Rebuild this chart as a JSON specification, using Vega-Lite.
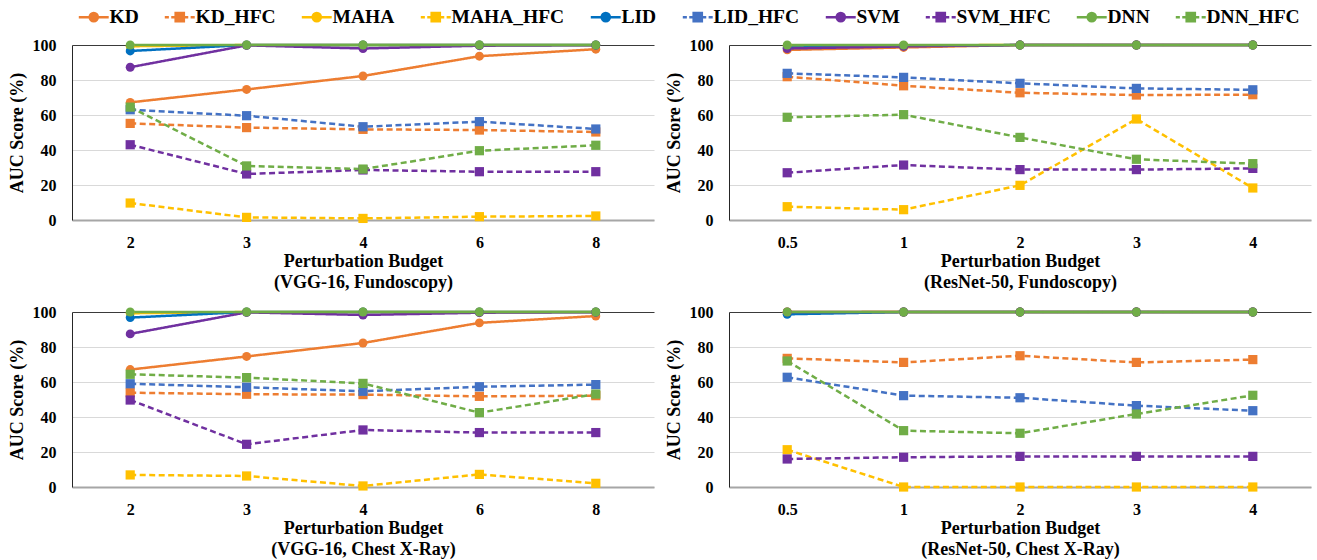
{
  "$schema": "https://vega.github.io/schema/vega-lite/v6.json",
  "background": "white",
  "padding": {"left": 8, "top": 7, "right": 4, "bottom": 4},
  "config": {
    "font": "Liberation Serif",
    "view": {"stroke": null},
    "axis": {"labelFont": "Liberation Serif", "labelFontWeight": "bold", "labelFontSize": 16, "labelColor": "black", "titleFont": "Liberation Serif", "titleFontWeight": "bold", "titleFontSize": 18, "titleColor": "black", "ticks": false},
    "axisX": {"domainColor": "#a6a6a6", "domainWidth": 2, "grid": false, "labelPadding": 14, "labelAngle": 0, "titlePadding": 2, "titleLineHeight": 21},
    "axisY": {"domainColor": "#262626", "domainWidth": 1, "gridWidth": 1, "labelPadding": 16, "titlePadding": 6},
    "legend": {"labelFont": "Liberation Serif", "labelFontWeight": "bold", "labelFontSize": 19.5, "labelColor": "black", "symbolSize": 185, "labelOffset": 6, "columnPadding": 20, "symbolStrokeWidth": 2.5, "padding": 0}
  },
  "data": {"values": [
    {"p":"VF","x":"2","s":"KD","v":67.2},{"p":"VF","x":"3","s":"KD","v":74.6},{"p":"VF","x":"4","s":"KD","v":82.3},{"p":"VF","x":"6","s":"KD","v":93.6},{"p":"VF","x":"8","s":"KD","v":97.6},
    {"p":"VF","x":"2","s":"KD_HFC","v":55.2},{"p":"VF","x":"3","s":"KD_HFC","v":52.8},{"p":"VF","x":"4","s":"KD_HFC","v":51.8},{"p":"VF","x":"6","s":"KD_HFC","v":51.4},{"p":"VF","x":"8","s":"KD_HFC","v":50.3},
    {"p":"VF","x":"2","s":"MAHA","v":99.3},{"p":"VF","x":"3","s":"MAHA","v":100},{"p":"VF","x":"4","s":"MAHA","v":100},{"p":"VF","x":"6","s":"MAHA","v":100},{"p":"VF","x":"8","s":"MAHA","v":100},
    {"p":"VF","x":"2","s":"MAHA_HFC","v":9.7},{"p":"VF","x":"3","s":"MAHA_HFC","v":1.5},{"p":"VF","x":"4","s":"MAHA_HFC","v":0.9},{"p":"VF","x":"6","s":"MAHA_HFC","v":1.9},{"p":"VF","x":"8","s":"MAHA_HFC","v":2.3},
    {"p":"VF","x":"2","s":"LID","v":96.6},{"p":"VF","x":"3","s":"LID","v":100},{"p":"VF","x":"4","s":"LID","v":100},{"p":"VF","x":"6","s":"LID","v":100},{"p":"VF","x":"8","s":"LID","v":100},
    {"p":"VF","x":"2","s":"LID_HFC","v":63.0},{"p":"VF","x":"3","s":"LID_HFC","v":59.6},{"p":"VF","x":"4","s":"LID_HFC","v":53.3},{"p":"VF","x":"6","s":"LID_HFC","v":56.2},{"p":"VF","x":"8","s":"LID_HFC","v":52.0},
    {"p":"VF","x":"2","s":"SVM","v":87.3},{"p":"VF","x":"3","s":"SVM","v":99.8},{"p":"VF","x":"4","s":"SVM","v":98.0},{"p":"VF","x":"6","s":"SVM","v":99.6},{"p":"VF","x":"8","s":"SVM","v":99.9},
    {"p":"VF","x":"2","s":"SVM_HFC","v":43.0},{"p":"VF","x":"3","s":"SVM_HFC","v":26.3},{"p":"VF","x":"4","s":"SVM_HFC","v":28.6},{"p":"VF","x":"6","s":"SVM_HFC","v":27.6},{"p":"VF","x":"8","s":"SVM_HFC","v":27.6},
    {"p":"VF","x":"2","s":"DNN","v":100},{"p":"VF","x":"3","s":"DNN","v":100},{"p":"VF","x":"4","s":"DNN","v":100},{"p":"VF","x":"6","s":"DNN","v":100},{"p":"VF","x":"8","s":"DNN","v":100},
    {"p":"VF","x":"2","s":"DNN_HFC","v":64.5},{"p":"VF","x":"3","s":"DNN_HFC","v":30.9},{"p":"VF","x":"4","s":"DNN_HFC","v":29.1},{"p":"VF","x":"6","s":"DNN_HFC","v":39.6},{"p":"VF","x":"8","s":"DNN_HFC","v":42.7},

    {"p":"RF","x":"0.5","s":"KD","v":97.2},{"p":"RF","x":"1","s":"KD","v":98.6},{"p":"RF","x":"2","s":"KD","v":100},{"p":"RF","x":"3","s":"KD","v":100},{"p":"RF","x":"4","s":"KD","v":100},
    {"p":"RF","x":"0.5","s":"KD_HFC","v":81.9},{"p":"RF","x":"1","s":"KD_HFC","v":76.7},{"p":"RF","x":"2","s":"KD_HFC","v":72.7},{"p":"RF","x":"3","s":"KD_HFC","v":71.4},{"p":"RF","x":"4","s":"KD_HFC","v":71.6},
    {"p":"RF","x":"0.5","s":"MAHA","v":99.5},{"p":"RF","x":"1","s":"MAHA","v":99.8},{"p":"RF","x":"2","s":"MAHA","v":100},{"p":"RF","x":"3","s":"MAHA","v":100},{"p":"RF","x":"4","s":"MAHA","v":100},
    {"p":"RF","x":"0.5","s":"MAHA_HFC","v":7.6},{"p":"RF","x":"1","s":"MAHA_HFC","v":5.9},{"p":"RF","x":"2","s":"MAHA_HFC","v":19.8},{"p":"RF","x":"3","s":"MAHA_HFC","v":57.7},{"p":"RF","x":"4","s":"MAHA_HFC","v":18.3},
    {"p":"RF","x":"0.5","s":"LID","v":98.5},{"p":"RF","x":"1","s":"LID","v":99.5},{"p":"RF","x":"2","s":"LID","v":100},{"p":"RF","x":"3","s":"LID","v":100},{"p":"RF","x":"4","s":"LID","v":100},
    {"p":"RF","x":"0.5","s":"LID_HFC","v":83.8},{"p":"RF","x":"1","s":"LID_HFC","v":81.5},{"p":"RF","x":"2","s":"LID_HFC","v":78.1},{"p":"RF","x":"3","s":"LID_HFC","v":75.2},{"p":"RF","x":"4","s":"LID_HFC","v":74.4},
    {"p":"RF","x":"0.5","s":"SVM","v":98.0},{"p":"RF","x":"1","s":"SVM","v":99.2},{"p":"RF","x":"2","s":"SVM","v":100},{"p":"RF","x":"3","s":"SVM","v":100},{"p":"RF","x":"4","s":"SVM","v":100},
    {"p":"RF","x":"0.5","s":"SVM_HFC","v":27.0},{"p":"RF","x":"1","s":"SVM_HFC","v":31.4},{"p":"RF","x":"2","s":"SVM_HFC","v":28.8},{"p":"RF","x":"3","s":"SVM_HFC","v":28.8},{"p":"RF","x":"4","s":"SVM_HFC","v":29.5},
    {"p":"RF","x":"0.5","s":"DNN","v":100},{"p":"RF","x":"1","s":"DNN","v":100},{"p":"RF","x":"2","s":"DNN","v":100},{"p":"RF","x":"3","s":"DNN","v":100},{"p":"RF","x":"4","s":"DNN","v":100},
    {"p":"RF","x":"0.5","s":"DNN_HFC","v":58.7},{"p":"RF","x":"1","s":"DNN_HFC","v":60.2},{"p":"RF","x":"2","s":"DNN_HFC","v":47.2},{"p":"RF","x":"3","s":"DNN_HFC","v":34.7},{"p":"RF","x":"4","s":"DNN_HFC","v":32.2},

    {"p":"VC","x":"2","s":"KD","v":67.1},{"p":"VC","x":"3","s":"KD","v":74.6},{"p":"VC","x":"4","s":"KD","v":82.3},{"p":"VC","x":"6","s":"KD","v":93.8},{"p":"VC","x":"8","s":"KD","v":97.7},
    {"p":"VC","x":"2","s":"KD_HFC","v":53.9},{"p":"VC","x":"3","s":"KD_HFC","v":53.0},{"p":"VC","x":"4","s":"KD_HFC","v":52.8},{"p":"VC","x":"6","s":"KD_HFC","v":51.8},{"p":"VC","x":"8","s":"KD_HFC","v":52.2},
    {"p":"VC","x":"2","s":"MAHA","v":99.3},{"p":"VC","x":"3","s":"MAHA","v":100},{"p":"VC","x":"4","s":"MAHA","v":100},{"p":"VC","x":"6","s":"MAHA","v":100},{"p":"VC","x":"8","s":"MAHA","v":100},
    {"p":"VC","x":"2","s":"MAHA_HFC","v":6.9},{"p":"VC","x":"3","s":"MAHA_HFC","v":6.3},{"p":"VC","x":"4","s":"MAHA_HFC","v":0.6},{"p":"VC","x":"6","s":"MAHA_HFC","v":7.2},{"p":"VC","x":"8","s":"MAHA_HFC","v":2.1},
    {"p":"VC","x":"2","s":"LID","v":96.8},{"p":"VC","x":"3","s":"LID","v":100},{"p":"VC","x":"4","s":"LID","v":100},{"p":"VC","x":"6","s":"LID","v":100},{"p":"VC","x":"8","s":"LID","v":100},
    {"p":"VC","x":"2","s":"LID_HFC","v":59.0},{"p":"VC","x":"3","s":"LID_HFC","v":57.0},{"p":"VC","x":"4","s":"LID_HFC","v":54.7},{"p":"VC","x":"6","s":"LID_HFC","v":57.3},{"p":"VC","x":"8","s":"LID_HFC","v":58.5},
    {"p":"VC","x":"2","s":"SVM","v":87.5},{"p":"VC","x":"3","s":"SVM","v":99.8},{"p":"VC","x":"4","s":"SVM","v":98.3},{"p":"VC","x":"6","s":"SVM","v":99.6},{"p":"VC","x":"8","s":"SVM","v":99.9},
    {"p":"VC","x":"2","s":"SVM_HFC","v":49.7},{"p":"VC","x":"3","s":"SVM_HFC","v":24.4},{"p":"VC","x":"4","s":"SVM_HFC","v":32.6},{"p":"VC","x":"6","s":"SVM_HFC","v":31.1},{"p":"VC","x":"8","s":"SVM_HFC","v":31.1},
    {"p":"VC","x":"2","s":"DNN","v":100},{"p":"VC","x":"3","s":"DNN","v":100},{"p":"VC","x":"4","s":"DNN","v":100},{"p":"VC","x":"6","s":"DNN","v":100},{"p":"VC","x":"8","s":"DNN","v":100},
    {"p":"VC","x":"2","s":"DNN_HFC","v":64.4},{"p":"VC","x":"3","s":"DNN_HFC","v":62.5},{"p":"VC","x":"4","s":"DNN_HFC","v":59.2},{"p":"VC","x":"6","s":"DNN_HFC","v":42.5},{"p":"VC","x":"8","s":"DNN_HFC","v":53.1},

    {"p":"RC","x":"0.5","s":"KD","v":99.8},{"p":"RC","x":"1","s":"KD","v":100},{"p":"RC","x":"2","s":"KD","v":100},{"p":"RC","x":"3","s":"KD","v":100},{"p":"RC","x":"4","s":"KD","v":100},
    {"p":"RC","x":"0.5","s":"KD_HFC","v":73.5},{"p":"RC","x":"1","s":"KD_HFC","v":71.2},{"p":"RC","x":"2","s":"KD_HFC","v":75.0},{"p":"RC","x":"3","s":"KD_HFC","v":71.2},{"p":"RC","x":"4","s":"KD_HFC","v":72.8},
    {"p":"RC","x":"0.5","s":"MAHA","v":100},{"p":"RC","x":"1","s":"MAHA","v":100},{"p":"RC","x":"2","s":"MAHA","v":100},{"p":"RC","x":"3","s":"MAHA","v":100},{"p":"RC","x":"4","s":"MAHA","v":100},
    {"p":"RC","x":"0.5","s":"MAHA_HFC","v":21.3},{"p":"RC","x":"1","s":"MAHA_HFC","v":0},{"p":"RC","x":"2","s":"MAHA_HFC","v":0},{"p":"RC","x":"3","s":"MAHA_HFC","v":0},{"p":"RC","x":"4","s":"MAHA_HFC","v":0},
    {"p":"RC","x":"0.5","s":"LID","v":98.7},{"p":"RC","x":"1","s":"LID","v":100},{"p":"RC","x":"2","s":"LID","v":100},{"p":"RC","x":"3","s":"LID","v":100},{"p":"RC","x":"4","s":"LID","v":100},
    {"p":"RC","x":"0.5","s":"LID_HFC","v":62.7},{"p":"RC","x":"1","s":"LID_HFC","v":52.2},{"p":"RC","x":"2","s":"LID_HFC","v":51.0},{"p":"RC","x":"3","s":"LID_HFC","v":46.5},{"p":"RC","x":"4","s":"LID_HFC","v":43.6},
    {"p":"RC","x":"0.5","s":"SVM","v":100},{"p":"RC","x":"1","s":"SVM","v":100},{"p":"RC","x":"2","s":"SVM","v":100},{"p":"RC","x":"3","s":"SVM","v":100},{"p":"RC","x":"4","s":"SVM","v":100},
    {"p":"RC","x":"0.5","s":"SVM_HFC","v":16.0},{"p":"RC","x":"1","s":"SVM_HFC","v":17.0},{"p":"RC","x":"2","s":"SVM_HFC","v":17.5},{"p":"RC","x":"3","s":"SVM_HFC","v":17.5},{"p":"RC","x":"4","s":"SVM_HFC","v":17.5},
    {"p":"RC","x":"0.5","s":"DNN","v":100},{"p":"RC","x":"1","s":"DNN","v":100},{"p":"RC","x":"2","s":"DNN","v":100},{"p":"RC","x":"3","s":"DNN","v":100},{"p":"RC","x":"4","s":"DNN","v":100},
    {"p":"RC","x":"0.5","s":"DNN_HFC","v":72.0},{"p":"RC","x":"1","s":"DNN_HFC","v":32.2},{"p":"RC","x":"2","s":"DNN_HFC","v":30.7},{"p":"RC","x":"3","s":"DNN_HFC","v":41.7},{"p":"RC","x":"4","s":"DNN_HFC","v":52.4}
  ]},
  "columns": 2,
  "spacing": {"column": 11, "row": 13},
  "resolve": {"scale": {"x": "independent", "y": "independent"}},
  "concat": [
    {
      "width": 582, "height": 175,
      "transform": [{"filter": "datum.p === 'VF'"}],
      "encoding": {
        "x": {"field": "x", "type": "ordinal", "sort": ["2","3","4","6","8"], "scale": {"type": "point", "padding": 0.5}, "axis": {"title": ["Perturbation Budget", "(VGG-16, Fundoscopy)"]}},
        "y": {"field": "v", "type": "quantitative", "scale": {"domain": [0, 100], "nice": false}, "axis": {"title": "AUC Score (%)", "values": [0,20,40,60,80,100], "gridColor": {"condition": {"test": "datum.value === 100", "value": "#3a3a3a"}, "value": "#d9d9d9"}}}
      },
      "layer": [
        {"mark": {"type": "line", "strokeWidth": 2.5, "strokeCap": "butt"},
          "encoding": {
            "color": {"field": "s", "type": "nominal", "sort": null, "legend": null, "scale": {"domain": ["KD","KD_HFC","MAHA","MAHA_HFC","LID","LID_HFC","SVM","SVM_HFC","DNN","DNN_HFC","_"], "range": ["#ED7D31","#ED7D31","#FFC000","#FFC000","#0070C0","#4472C4","#7030A0","#7030A0","#70AD47","#70AD47","#000000"]}},
            "strokeDash": {"field": "s", "type": "nominal", "scale": {"domain": ["KD","KD_HFC","MAHA","MAHA_HFC","LID","LID_HFC","SVM","SVM_HFC","DNN","DNN_HFC","_"], "range": [[1,0],[6,3.5],[1,0],[6,3.5],[1,0],[6,3.5],[1,0],[6,3.5],[1,0],[6,3.5],[1,0]]}, "legend": null}}},
        {"transform": [{"filter": "indexof(datum.s, 'HFC') < 0"}], "mark": {"type": "point", "shape": "circle", "filled": true, "opacity": 1, "size": 80}, "encoding": {"color": {"field": "s", "type": "nominal", "sort": null, "legend": null}}},
        {"transform": [{"filter": "indexof(datum.s, 'HFC') >= 0"}], "mark": {"type": "point", "shape": "square", "filled": true, "opacity": 1, "size": 85}, "encoding": {"color": {"field": "s", "type": "nominal", "sort": null, "legend": null}}},
        {"transform": [{"filter": "datum.v < -1"}], "mark": {"type": "point", "filled": true, "opacity": 1, "strokeWidth": 2.5},
          "encoding": {
            "fill": {"field": "s", "type": "nominal", "sort": null,
              "scale": {"domain": ["KD","KD_HFC","MAHA","MAHA_HFC","LID","LID_HFC","SVM","SVM_HFC","DNN","DNN_HFC"], "range": ["#ED7D31","#ED7D31","#FFC000","#FFC000","#0070C0","#4472C4","#7030A0","#7030A0","#70AD47","#70AD47"]},
              "legend": {"orient": "none", "legendX": 12, "legendY": -38, "direction": "horizontal", "columns": 10, "title": null, "labelFont": "Liberation Serif", "labelFontWeight": "bold", "labelFontSize": 19.5,
                "encode": {"labels": {"update": {"font": {"value": "Liberation Serif"}, "fontWeight": {"value": "bold"}, "fontSize": {"value": 19.5}}}}}},
            "stroke": {"field": "s", "type": "nominal", "sort": null,
              "scale": {"domain": ["KD","KD_HFC","MAHA","MAHA_HFC","LID","LID_HFC","SVM","SVM_HFC","DNN","DNN_HFC"], "range": ["#ED7D31","#ED7D31","#FFC000","#FFC000","#0070C0","#4472C4","#7030A0","#7030A0","#70AD47","#70AD47"]},
              "legend": {"orient": "none", "legendX": 12, "legendY": -38, "direction": "horizontal", "columns": 10, "title": null, "labelFont": "Liberation Serif", "labelFontWeight": "bold", "labelFontSize": 19.5,
                "encode": {"labels": {"update": {"font": {"value": "Liberation Serif"}, "fontWeight": {"value": "bold"}, "fontSize": {"value": 19.5}}}}}},
            "shape": {"field": "s", "type": "nominal", "sort": null,
              "scale": {"domain": ["KD","KD_HFC","MAHA","MAHA_HFC","LID","LID_HFC","SVM","SVM_HFC","DNN","DNN_HFC"], "range": [
                "M-2.2,0H2.2M0.6,0A0.6,0.6,0,1,1,-0.6,0A0.6,0.6,0,1,1,0.6,0Z",
                "M-2.2,0H-1.6M-1.25,0H-0.65M0.65,0H1.25M1.6,0H2.2M-0.6,-0.6H0.6V0.6H-0.6Z",
                "M-2.2,0H2.2M0.6,0A0.6,0.6,0,1,1,-0.6,0A0.6,0.6,0,1,1,0.6,0Z",
                "M-2.2,0H-1.6M-1.25,0H-0.65M0.65,0H1.25M1.6,0H2.2M-0.6,-0.6H0.6V0.6H-0.6Z",
                "M-2.2,0H2.2M0.6,0A0.6,0.6,0,1,1,-0.6,0A0.6,0.6,0,1,1,0.6,0Z",
                "M-2.2,0H-1.6M-1.25,0H-0.65M0.65,0H1.25M1.6,0H2.2M-0.6,-0.6H0.6V0.6H-0.6Z",
                "M-2.2,0H2.2M0.6,0A0.6,0.6,0,1,1,-0.6,0A0.6,0.6,0,1,1,0.6,0Z",
                "M-2.2,0H-1.6M-1.25,0H-0.65M0.65,0H1.25M1.6,0H2.2M-0.6,-0.6H0.6V0.6H-0.6Z",
                "M-2.2,0H2.2M0.6,0A0.6,0.6,0,1,1,-0.6,0A0.6,0.6,0,1,1,0.6,0Z",
                "M-2.2,0H-1.6M-1.25,0H-0.65M0.65,0H1.25M1.6,0H2.2M-0.6,-0.6H0.6V0.6H-0.6Z"]},
              "legend": {"orient": "none", "legendX": 12, "legendY": -38, "direction": "horizontal", "columns": 10, "title": null, "labelFont": "Liberation Serif", "labelFontWeight": "bold", "labelFontSize": 19.5,
                "encode": {"labels": {"update": {"font": {"value": "Liberation Serif"}, "fontWeight": {"value": "bold"}, "fontSize": {"value": 19.5}}}}}}
          }}
      ]
    },
    {
      "width": 582, "height": 175,
      "transform": [{"filter": "datum.p === 'RF'"}],
      "encoding": {
        "x": {"field": "x", "type": "ordinal", "sort": ["0.5","1","2","3","4"], "scale": {"type": "point", "padding": 0.5}, "axis": {"title": ["Perturbation Budget", "(ResNet-50, Fundoscopy)"]}},
        "y": {"field": "v", "type": "quantitative", "scale": {"domain": [0, 100], "nice": false}, "axis": {"title": "AUC Score (%)", "values": [0,20,40,60,80,100], "gridColor": {"condition": {"test": "datum.value === 100", "value": "#3a3a3a"}, "value": "#d9d9d9"}}},
        "color": {"field": "s", "type": "nominal", "sort": null, "legend": null}
      },
      "layer": [
        {"mark": {"type": "line", "strokeWidth": 2.5, "strokeCap": "butt"}, "encoding": {"strokeDash": {"field": "s", "type": "nominal", "legend": null}}},
        {"transform": [{"filter": "indexof(datum.s, 'HFC') < 0"}], "mark": {"type": "point", "shape": "circle", "filled": true, "opacity": 1, "size": 80}},
        {"transform": [{"filter": "indexof(datum.s, 'HFC') >= 0"}], "mark": {"type": "point", "shape": "square", "filled": true, "opacity": 1, "size": 85}}
      ]
    },
    {
      "width": 582, "height": 175,
      "transform": [{"filter": "datum.p === 'VC'"}],
      "encoding": {
        "x": {"field": "x", "type": "ordinal", "sort": ["2","3","4","6","8"], "scale": {"type": "point", "padding": 0.5}, "axis": {"title": ["Perturbation Budget", "(VGG-16, Chest X-Ray)"]}},
        "y": {"field": "v", "type": "quantitative", "scale": {"domain": [0, 100], "nice": false}, "axis": {"title": "AUC Score (%)", "values": [0,20,40,60,80,100], "gridColor": {"condition": {"test": "datum.value === 100", "value": "#3a3a3a"}, "value": "#d9d9d9"}}},
        "color": {"field": "s", "type": "nominal", "sort": null, "legend": null}
      },
      "layer": [
        {"mark": {"type": "line", "strokeWidth": 2.5, "strokeCap": "butt"}, "encoding": {"strokeDash": {"field": "s", "type": "nominal", "legend": null}}},
        {"transform": [{"filter": "indexof(datum.s, 'HFC') < 0"}], "mark": {"type": "point", "shape": "circle", "filled": true, "opacity": 1, "size": 80}},
        {"transform": [{"filter": "indexof(datum.s, 'HFC') >= 0"}], "mark": {"type": "point", "shape": "square", "filled": true, "opacity": 1, "size": 85}}
      ]
    },
    {
      "width": 582, "height": 175,
      "transform": [{"filter": "datum.p === 'RC'"}],
      "encoding": {
        "x": {"field": "x", "type": "ordinal", "sort": ["0.5","1","2","3","4"], "scale": {"type": "point", "padding": 0.5}, "axis": {"title": ["Perturbation Budget", "(ResNet-50, Chest X-Ray)"]}},
        "y": {"field": "v", "type": "quantitative", "scale": {"domain": [0, 100], "nice": false}, "axis": {"title": "AUC Score (%)", "values": [0,20,40,60,80,100], "gridColor": {"condition": {"test": "datum.value === 100", "value": "#3a3a3a"}, "value": "#d9d9d9"}}},
        "color": {"field": "s", "type": "nominal", "sort": null, "legend": null}
      },
      "layer": [
        {"mark": {"type": "line", "strokeWidth": 2.5, "strokeCap": "butt"}, "encoding": {"strokeDash": {"field": "s", "type": "nominal", "legend": null}}},
        {"transform": [{"filter": "indexof(datum.s, 'HFC') < 0"}], "mark": {"type": "point", "shape": "circle", "filled": true, "opacity": 1, "size": 80}},
        {"transform": [{"filter": "indexof(datum.s, 'HFC') >= 0"}], "mark": {"type": "point", "shape": "square", "filled": true, "opacity": 1, "size": 85}}
      ]
    }
  ]
}
